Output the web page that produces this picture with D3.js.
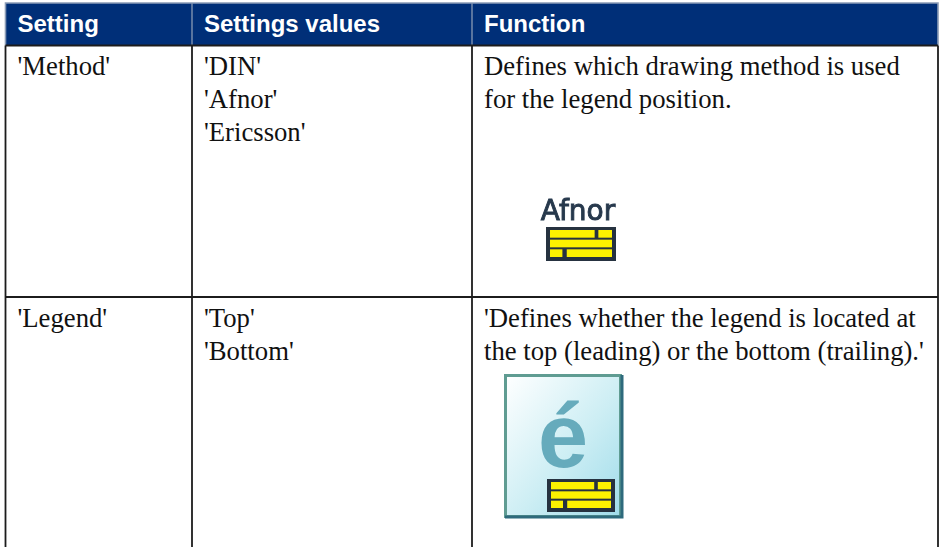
<!DOCTYPE html>
<html>
<head>
<meta charset="utf-8">
<style>
  html, body { margin: 0; padding: 0; background: #fff; }
  svg { display: block; }
  .head { font-family: "Liberation Sans", sans-serif; font-weight: bold; font-size: 24px; fill: #fff; }
  .cell { font-family: "Liberation Serif", serif; font-size: 26.7px; fill: #111; }
</style>
</head>
<body>
<svg id="chart" width="945" height="547"></svg>
<script src="https://cdn.jsdelivr.net/npm/d3@7"></script>
<script>
const columns = ['Setting', 'Settings values', 'Function'];
const settingNames = ["'Method'", "'Legend'"];
const settingValues = [["'DIN'", "'Afnor'", "'Ericsson'"], ["'Top'", "'Bottom'"]];
const functionTexts = [
  ['Defines which drawing method is used', 'for the legend position.'],
  ["'Defines whether the legend is located at", 'the top (leading) or the bottom (trailing).\'']
];
const iconLabel = 'Afnor';
const pageLetter = 'é';

const svg = d3.select('#chart');
const defs = svg.append('defs');

const grad = defs.append('linearGradient')
  .attr('id', 'page')
  .attr('x1', 0).attr('y1', 0).attr('x2', 1).attr('y2', 1);
grad.append('stop').attr('offset', '0%').attr('stop-color', '#ffffff');
grad.append('stop').attr('offset', '55%').attr('stop-color', '#cdeef4');
grad.append('stop').attr('offset', '100%').attr('stop-color', '#a0dcea');

defs.append('filter').attr('id', 'soft')
  .append('feGaussianBlur').attr('stdDeviation', 0.5);

// table layout
const left = 5.5, right = 938;
const x = d3.scaleOrdinal().domain(columns).range([left, 192, 472]);
const headTop = 3, headBottom = 45.5, rowLine = 297, tableBottom = 547;
const rowTop = d3.scaleOrdinal().domain(settingNames).range([headBottom, rowLine]);
const lineHeight = 33, firstBaseline = 29.5, pad = 12;

svg.append('rect')
  .attr('x', left).attr('y', headTop)
  .attr('width', right - left).attr('height', headBottom - headTop)
  .attr('fill', '#002f78');

// header edge, light on the top and the sides
svg.append('path')
  .attr('d', d3.line()([[left, headBottom], [left, headTop], [right, headTop], [right, headBottom]]))
  .attr('fill', 'none').attr('stroke', '#8b9cb6').attr('stroke-width', 1.6);

svg.selectAll('.head-sep')
  .data(columns.slice(1))
  .enter().append('line')
  .attr('class', 'head-sep')
  .attr('x1', d => x(d)).attr('x2', d => x(d))
  .attr('y1', headTop).attr('y2', headBottom)
  .attr('stroke', '#7f92b0').attr('stroke-width', 1.4);

svg.selectAll('.head')
  .data(columns)
  .enter().append('text')
  .attr('class', 'head')
  .attr('x', d => x(d) + pad)
  .attr('y', 32)
  .text(d => d);

// body grid
const vertical = [left, x(columns[1]), x(columns[2]), right];
svg.selectAll('.grid-v')
  .data(vertical)
  .enter().append('line')
  .attr('class', 'grid-v')
  .attr('x1', d => d).attr('x2', d => d)
  .attr('y1', headBottom).attr('y2', tableBottom)
  .attr('stroke', '#1c1c1c').attr('stroke-width', 1.8);

svg.selectAll('.grid-h')
  .data(settingNames)
  .enter().append('line')
  .attr('class', 'grid-h')
  .attr('x1', left).attr('x2', right)
  .attr('y1', d => rowTop(d)).attr('y2', d => rowTop(d))
  .attr('stroke', '#1c1c1c').attr('stroke-width', 1.8);

// body text, one entry per printed line
const cellLines = [];
settingNames.forEach((name, i) => {
  const add = (col, lines) => lines.forEach((t, k) => cellLines.push({
    col, t, y: rowTop(name) + firstBaseline + k * lineHeight
  }));
  add(columns[0], [name]);
  add(columns[1], settingValues[i]);
  add(columns[2], functionTexts[i]);
});

svg.selectAll('.cell')
  .data(cellLines)
  .enter().append('text')
  .attr('class', 'cell')
  .attr('x', d => x(d.col) + pad)
  .attr('y', d => d.y)
  .text(d => d.t);

// the small yellow legend block used in both icons
function legendBlock(parent, bx, by, w, h) {
  const g = parent.append('g').attr('filter', 'url(#soft)');
  g.append('rect').attr('x', bx).attr('y', by).attr('width', w).attr('height', h).attr('fill', '#26303f');
  const bar = (h - 8) / 3;
  const rows = [[0, 0.72, 0.78, 1], [0, 1], [0, 0.2, 0.27, 1]];
  const inner = w - 8;
  rows.forEach((r, i) => {
    for (let k = 0; k < r.length; k += 2) {
      g.append('rect')
        .attr('x', bx + 4 + r[k] * inner)
        .attr('y', by + 3 + i * (bar + 1))
        .attr('width', (r[k + 1] - r[k]) * inner)
        .attr('height', bar - 1)
        .attr('fill', '#fdf200');
    }
  });
}

// Afnor icon
svg.append('text')
  .attr('x', 578).attr('y', 220)
  .attr('text-anchor', 'middle')
  .attr('filter', 'url(#soft)')
  .style('font-family', '"DejaVu Sans", sans-serif')
  .style('font-size', '28px')
  .attr('fill', '#26384c')
  .attr('stroke', '#26384c')
  .attr('stroke-width', 0.9)
  .text(iconLabel);
legendBlock(svg, 546, 227, 70, 34);

// page icon
const page = svg.append('g');
page.append('rect')
  .attr('x', 505.5).attr('y', 375.5).attr('width', 115).attr('height', 141)
  .attr('fill', 'url(#page)').attr('stroke', '#5f9c92').attr('stroke-width', 3)
  .attr('filter', 'url(#soft)');
page.append('path')
  .attr('d', d3.line()([[622, 375], [622, 517], [505, 517]]))
  .attr('fill', 'none').attr('stroke', '#2f6b7c').attr('stroke-width', 3)
  .attr('filter', 'url(#soft)');
page.append('text')
  .attr('x', 563).attr('y', 467)
  .attr('text-anchor', 'middle')
  .attr('filter', 'url(#soft)')
  .style('font-family', '"Liberation Sans", sans-serif')
  .style('font-weight', 'bold')
  .style('font-size', '90px')
  .attr('fill', '#66abbc')
  .text(pageLetter);
legendBlock(page, 547, 479, 68, 33);
</script>
</body>
</html>
